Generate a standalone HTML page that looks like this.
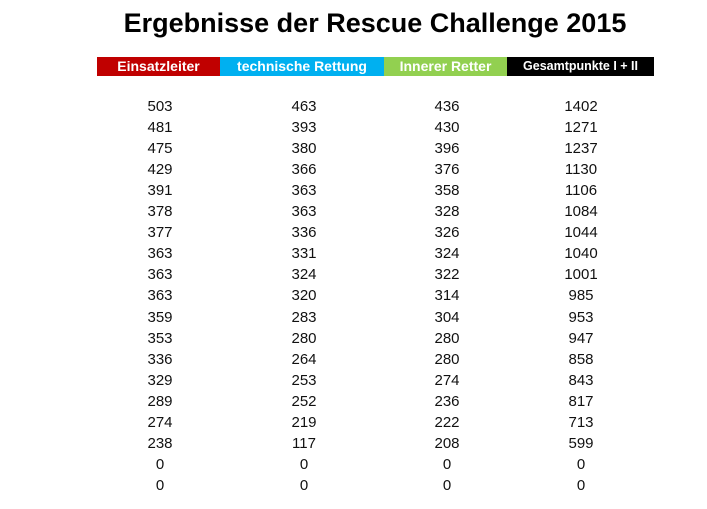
<!DOCTYPE html>
<html><head><meta charset="utf-8"><style>
body{margin:0;width:707px;height:509px;background:#fff;font-family:"Liberation Sans",sans-serif;position:relative;overflow:hidden}
#title{position:absolute;left:0;width:750px;top:8px;text-align:center;font-weight:bold;font-size:27px;color:#000}
.h{position:absolute;top:57px;height:19px;line-height:19px;color:#fff;font-weight:bold;text-align:center;font-size:14px}
.c{position:absolute;font-size:15px;color:#111;text-align:center;width:100px;line-height:18px}
</style></head><body>
<div id="title">Ergebnisse der Rescue Challenge 2015</div>
<div class="h" style="left:97px;width:123px;background:#c00000">Einsatzleiter</div>
<div class="h" style="left:220px;width:164px;background:#00b0f0">technische Rettung</div>
<div class="h" style="left:384px;width:123px;background:#92d050">Innerer Retter</div>
<div class="h" style="left:507px;width:147px;background:#000;font-size:12.5px">Gesamtpunkte I + II</div>
<script>
const einsatzleiter=[503,481,475,429,391,378,377,363,363,363,359,353,336,329,289,274,238,0,0];
const technischeRettung=[463,393,380,366,363,363,336,331,324,320,283,280,264,253,252,219,117,0,0];
const innererRetter=[436,430,396,376,358,328,326,324,322,314,304,280,280,274,236,222,208,0,0];
const gesamtpunkte=[1402,1271,1237,1130,1106,1084,1044,1040,1001,985,953,947,858,843,817,713,599,0,0];
const cols=[[einsatzleiter,160,'einsatzleiter'],[technischeRettung,304,'technische-rettung'],[innererRetter,447,'innerer-retter'],[gesamtpunkte,581,'gesamtpunkte']];
cols.forEach(([arr,cx,nm])=>{arr.forEach((v,i)=>{
const d=document.createElement('div');d.className='c';
d.style.left=(cx-50)+'px';d.style.top=(98+i*21.05)+'px';d.textContent=v;


document.body.appendChild(d);});});
</script>
</body></html>
